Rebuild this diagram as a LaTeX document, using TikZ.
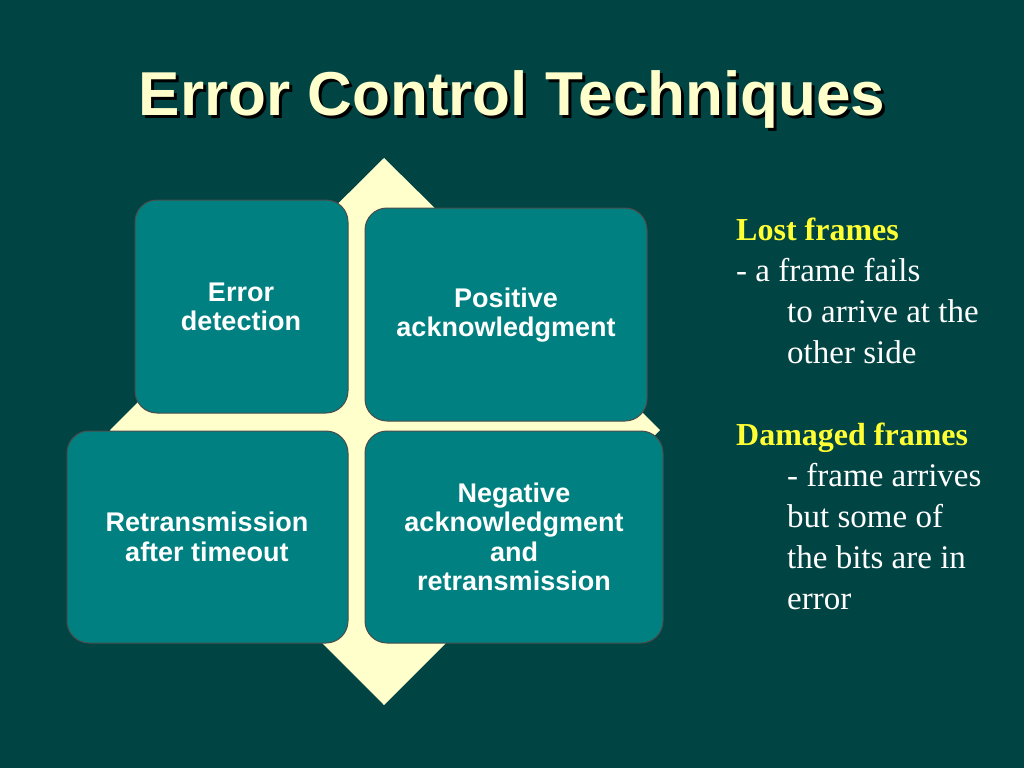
\documentclass[tikz,border=0pt]{standalone}
\usepackage{fontspec}
\setmainfont{Liberation Serif}
\setsansfont{Liberation Sans}
\begin{document}
\begin{tikzpicture}[x=1pt,y=-1pt,
  box/.style={draw=black!70,line width=1pt,fill=boxc,rounded corners=22pt},
  btxt/.style={font=\sffamily\bfseries\fontsize{27}{29.5}\selectfont,text=white,align=center},
  rt/.style={font=\fontsize{33}{40}\selectfont,text=white,anchor=base west,inner sep=0pt},
  hd/.style={rt,text=yel,font=\bfseries\fontsize{32}{40}\selectfont}]
\definecolor{bg}{HTML}{004443}
\definecolor{boxc}{HTML}{008080}
\definecolor{cream}{HTML}{FFFFCC}
\definecolor{yel}{HTML}{FFFF33}
\fill[bg] (0,0) rectangle (1024,768);
\useasboundingbox (0,0) rectangle (1024,768);
\node[font=\sffamily\bfseries\fontsize{62}{70}\selectfont,text=black] at (515,102) {Error Control Techniques};
\node[font=\sffamily\bfseries\fontsize{62}{70}\selectfont,text=cream] (title) at (512,99) {Error Control Techniques};
\fill[cream] (384,158) -- (660,430) -- (384,705) -- (110,430) -- cycle;
\draw[box] (135,200) rectangle (348,413);
\draw[box] (365,208) rectangle (647,421);
\draw[box] (67,431) rectangle (348,643);
\draw[box] (365,431) rectangle (663,643);
\node[btxt] (b1) at (241,307) {Error\\detection};
\node[btxt] (b2) at (506,315) {Positive\\acknowledgment};
\node[btxt] (b3) at (207,537) {Retransmission\\after timeout};
\node[btxt] (b4) at (514,537) {Negative\\acknowledgment\\and\\retransmission};
\node[hd] (l1) at (736,240) {Lost frames};
\node[rt] (l2) at (736,281) {- a frame fails};
\node[rt] (l3) at (787,322) {to arrive at the};
\node[rt] (l4) at (787,363) {other side};
\node[hd] (d1) at (736,445) {Damaged frames};
\node[rt] (d2) at (787,486) {- frame arrives};
\node[rt] (d3) at (787,527) {but some of};
\node[rt] (d4) at (787,568) {the bits are in};
\node[rt] (d5) at (787,609) {error};
\end{tikzpicture}
\end{document}
